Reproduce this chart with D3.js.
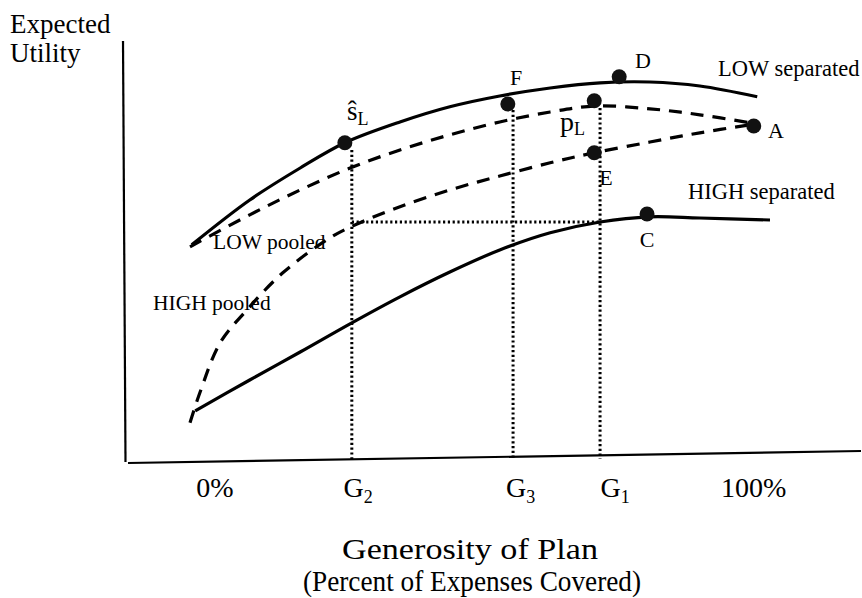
<!DOCTYPE html>
<html>
<head>
<meta charset="utf-8">
<script src="https://cdn.jsdelivr.net/npm/d3@7"></script>
<style>
  html, body { margin: 0; padding: 0; background: #fff; }
  svg { display: block; }
  text { font-family: "Liberation Serif", "Times New Roman", serif; fill: #000; }
</style>
</head>
<body>
<svg id="chart" width="862" height="598"></svg>
<script>
// ---- data (schematic utility curves, x = generosity %, y = expected utility) ----
const lowSepX  = [0.3, 10.3, 19.0, 26.7, 36.2, 44.8, 53.4, 62.1, 70.7, 79.3, 87.9, 97.8];
const lowSepY  = [53.8, 65.0, 73.0, 79.3, 84.5, 88.3, 91.0, 93.0, 94.3, 94.5, 93.5, 90.8];

const lowPoolX = [0.0, 10.3, 19.0, 27.6, 36.2, 44.8, 53.4, 62.1, 69.8, 79.3, 87.9, 96.6];
const lowPoolY = [53.3, 61.3, 67.5, 73.0, 77.5, 81.3, 84.5, 87.0, 88.5, 87.8, 86.3, 84.3];

const highPoolX = [0.0, 1.7, 5.2, 9.8, 16.0, 24.1, 28.8, 36.2, 44.8, 53.4, 62.1, 69.7, 79.3, 87.9, 96.6];
const highPoolY = [9.3, 16.8, 29.3, 37.5, 46.8, 55.5, 59.0, 63.3, 67.5, 71.0, 74.3, 76.8, 79.5, 81.8, 83.8];

const highSepX = [0.9, 10.3, 19.0, 27.9, 36.2, 44.8, 53.4, 62.1, 70.7, 79.3, 87.9, 100.0];
const highSepY = [12.3, 20.0, 27.0, 34.3, 40.8, 47.0, 52.5, 56.8, 59.5, 60.8, 60.5, 60.0];

// labelled points
const pointNames = ["sL", "F", "pL", "D", "E", "A", "C"];
const pointX     = [26.7, 54.8, 69.7, 74.0, 69.7, 97.2, 78.8];
const pointY     = [79.3, 89.0, 89.8, 95.8, 76.8, 83.5, 61.5];

// guide lines (G2, G3, G1)
const guideNames = ["G2", "G3", "G1"];
const guideX     = [27.9, 55.7, 70.7];
const guideTopY  = [77.5, 87.5, 88.0];
const guideHorizY = 59.5;   // horizontal dotted line from G2 to G1

// tick labels on the x axis
const tickLabels = ["0%", "G|2", "G|3", "G|1", "100%"];
const tickX      = [4.3, 29.0, 57.0, 73.3, 97.2];

// ---- scales ----
const x = d3.scaleLinear().domain([0, 100]).range([190, 770]);
const y = d3.scaleLinear().domain([0, 100]).range([460, 60]);

const svg = d3.select("#chart");

// axes (hand-drawn look, slightly tilted)
svg.append("line").attr("x1", 123).attr("y1", 41).attr("x2", 125.5).attr("y2", 462)
  .attr("stroke", "#000").attr("stroke-width", 2.2);
svg.append("line").attr("x1", 128).attr("y1", 463).attr("x2", 861).attr("y2", 451)
  .attr("stroke", "#000").attr("stroke-width", 2.2);

const line = d3.line().x(d => x(d[0])).y(d => y(d[1])).curve(d3.curveCatmullRom.alpha(0.5));
const zip = (a, b) => a.map((v, i) => [v, b[i]]);

// dotted guides
guideX.forEach((gx, i) => {
  svg.append("line")
    .attr("x1", x(gx)).attr("x2", x(gx))
    .attr("y1", y(guideTopY[i])).attr("y2", y(0) - 1)
    .attr("stroke", "#000").attr("stroke-width", 3)
    .attr("stroke-dasharray", "2.2,2.6");
});
svg.append("line")
  .attr("x1", x(guideX[0])).attr("x2", x(guideX[2]))
  .attr("y1", y(guideHorizY)).attr("y2", y(guideHorizY))
  .attr("stroke", "#000").attr("stroke-width", 3)
  .attr("stroke-dasharray", "2.2,2.6");

// curves
const curves = [
  { xs: lowSepX,  ys: lowSepY,  dash: null },
  { xs: lowPoolX, ys: lowPoolY, dash: "13,9" },
  { xs: highPoolX, ys: highPoolY, dash: "13,9" },
  { xs: highSepX, ys: highSepY, dash: null }
];
curves.forEach(c => {
  svg.append("path")
    .attr("d", line(zip(c.xs, c.ys)))
    .attr("fill", "none").attr("stroke", "#000")
    .attr("stroke-width", 3.2)
    .attr("stroke-linecap", "butt")
    .attr("stroke-dasharray", c.dash);
});

// points
svg.selectAll("circle.pt").data(pointNames).join("circle")
  .attr("class", "pt")
  .attr("cx", (d, i) => x(pointX[i]))
  .attr("cy", (d, i) => y(pointY[i]))
  .attr("r", 7.5)
  .attr("fill", "#111");

// ---- text ----
function txt(str, px, py, size, anchor) {
  return svg.append("text").attr("x", px).attr("y", py)
    .attr("font-size", size).attr("text-anchor", anchor || "start").text(str);
}

// y-axis title
txt("Expected", 10, 33, 27);
txt("Utility", 10, 62, 27);

// curve labels
txt("LOW separated", 718, 76, 22.5);
txt("HIGH separated", 688, 199, 22.5);
txt("LOW pooled", 213, 249, 21.5);
txt("HIGH pooled", 153, 310, 21.5);

// point labels
txt("F", 516, 85, 22, "middle");
txt("D", 643, 68, 22, "middle");
txt("A", 776, 138, 22, "middle");
txt("E", 606, 185, 22, "middle");
txt("C", 647, 247, 22, "middle");

// p_L
const pl = svg.append("text").attr("x", 560).attr("y", 131).attr("font-size", 28);
pl.append("tspan").text("p");
pl.append("tspan").attr("font-size", 18).attr("dy", 4).text("L");

// s-hat_L
const sl = svg.append("text").attr("x", 347).attr("y", 120).attr("font-size", 27);
sl.append("tspan").text("\u015D");
sl.append("tspan").attr("font-size", 18).attr("dy", 5).text("L");

// x tick labels
tickLabels.forEach((lab, i) => {
  const parts = lab.split("|");
  const t = svg.append("text").attr("x", x(tickX[i])).attr("y", 497)
    .attr("font-size", 28).attr("text-anchor", "middle");
  t.append("tspan").text(parts[0]);
  if (parts[1]) t.append("tspan").attr("font-size", 18).attr("dy", 6).text(parts[1]);
});

// x-axis title
txt("Generosity of Plan", 470, 559, 29, "middle").attr("textLength", 256).attr("lengthAdjust", "spacingAndGlyphs");
txt("(Percent of Expenses Covered)", 472, 591, 29, "middle").attr("textLength", 338).attr("lengthAdjust", "spacingAndGlyphs");
</script>
</body>
</html>
